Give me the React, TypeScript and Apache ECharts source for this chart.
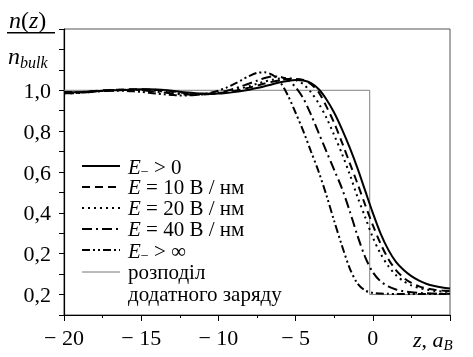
import { useEffect, useRef } from 'react';
import * as echarts from 'echarts';

const FONT = 'Liberation Serif';

// z positions (a_B)
const zValues = [
  -20, -19.5, -19, -18.5, -18, -17.5, -17, -16.5, -16, -15.5,
  -15, -14.5, -14, -13.5, -13, -12.5, -12, -11.5, -11, -10.5,
  -10, -9.5, -9, -8.5, -8, -7.5, -7, -6.5, -6, -5.5,
  -5, -4.5, -4, -3.5, -3, -2.5, -2, -1.5, -1, -0.5,
  0, 0.5, 1, 1.5, 2, 2.5, 3, 3.5, 4, 4.5, 5,
];

// E_ -> 0 (solid)
const eZero = [
  0.99, 0.99, 0.99, 0.993, 0.995, 0.998, 1.0, 1.0, 1.002, 1.004,
  1.005, 1.005, 1.004, 1.002, 0.998, 0.993, 0.989, 0.986, 0.984, 0.983,
  0.984, 0.987, 0.991, 0.996, 1.003, 1.011, 1.02, 1.03, 1.039, 1.046,
  1.05, 1.048, 1.035, 1.005, 0.955, 0.89, 0.81, 0.72, 0.62, 0.51,
  0.40, 0.30, 0.22, 0.16, 0.12, 0.09, 0.068, 0.052, 0.042, 0.035, 0.03,
];

// E = 10 V/nm (dashed)
const e10 = [
  0.99, 0.99, 0.991, 0.994, 0.997, 1.0, 1.002, 1.003, 1.004, 1.005,
  1.005, 1.004, 1.002, 0.999, 0.995, 0.99, 0.986, 0.983, 0.982, 0.983,
  0.986, 0.99, 0.996, 1.004, 1.013, 1.023, 1.033, 1.042, 1.05, 1.055,
  1.055, 1.05, 1.03, 0.99, 0.92, 0.84, 0.745, 0.645, 0.545, 0.44,
  0.34, 0.25, 0.175, 0.12, 0.082, 0.057, 0.04, 0.03, 0.024, 0.02, 0.018,
];

// E = 20 V/nm (dotted)
const e20 = [
  0.985, 0.986, 0.988, 0.99, 0.994, 0.997, 1.0, 1.002, 1.003, 1.003,
  1.002, 1.0, 0.997, 0.993, 0.989, 0.985, 0.982, 0.98, 0.98, 0.982,
  0.986, 0.992, 1.0, 1.01, 1.02, 1.032, 1.043, 1.052, 1.058, 1.06,
  1.05, 1.03, 0.99, 0.935, 0.865, 0.78, 0.69, 0.59, 0.48, 0.38,
  0.28, 0.2, 0.14, 0.095, 0.065, 0.045, 0.032, 0.024, 0.018, 0.015, 0.013,
];

// E = 40 V/nm (dash-dot)
const e40 = [
  0.985, 0.985, 0.987, 0.99, 0.993, 0.996, 0.999, 1.001, 1.002, 1.002,
  1.0, 0.997, 0.993, 0.989, 0.985, 0.981, 0.979, 0.978, 0.979, 0.983,
  0.989, 0.997, 1.007, 1.02, 1.033, 1.047, 1.06, 1.068, 1.066, 1.05,
  1.015, 0.96, 0.88, 0.79, 0.70, 0.61, 0.52, 0.41, 0.29, 0.185,
  0.11, 0.065, 0.04, 0.025, 0.016, 0.011, 0.008, 0.006, 0.005, 0.004, 0.004,
];

// E_ -> infinity (dash-dot-dot)
const eInf = [
  0.99, 0.99, 0.99, 0.992, 0.995, 0.997, 0.998, 0.998, 0.997, 0.995,
  0.992, 0.988, 0.984, 0.98, 0.977, 0.975, 0.975, 0.977, 0.981, 0.988,
  0.998, 1.012, 1.03, 1.05, 1.07, 1.085, 1.088, 1.075, 1.04, 0.975,
  0.89, 0.80, 0.70, 0.60, 0.485, 0.36, 0.24, 0.13, 0.055, 0.02,
  0.008, 0.005, 0.004, 0.003, 0.003, 0.003, 0.003, 0.003, 0.003, 0.003, 0.003,
];

// positive charge distribution (step)
const stepZ = [-20, -0.2, -0.2, 5];
const stepN = [1, 1, 0, 0];

const xTickLabels: Record<number, string> = { [-20]: '− 20', [-15]: '− 15', [-10]: '− 10', [-5]: '− 5', 0: '0' };
const yTickLabels: Record<number, string> = { 0: '0,2', 2: '0,2', 4: '0,4', 6: '0,6', 8: '0,8', 10: '1,0' };

const legendTexts = [
  '{e|E}{s|−}{n| > 0}',
  '{e|E}{n| = 10 В / нм}',
  '{e|E}{n| = 20 В / нм}',
  '{e|E}{n| = 40 В / нм}',
  '{e|E}{s|−}{n| > ∞}',
  '{n|розподіл}',
  '{n|додатного заряду}',
];

const zip = (xs: number[], ys: number[]) => xs.map((x, i) => [x, ys[i]]);

export default function App() {
  const ref = useRef<HTMLDivElement>(null);
  useEffect(() => {
    const chart = echarts.init(ref.current!, null, { renderer: 'svg' });

    const curves = [
      { name: 'E_ > 0', data: eZero },
      { name: 'E = 10', data: e10 },
      { name: 'E = 20', data: e20 },
      { name: 'E = 40', data: e40 },
      { name: 'E_ > inf', data: eInf },
    ];
    const dashes: any[] = [null, [8, 5], [2, 4], [10, 4, 2, 4], [8, 3, 2, 3, 2, 3]];

    const rowY = [166, 187, 208, 229, 250, 272, 294];
    const rich = {
      e: { fontFamily: FONT, fontSize: 21, fontStyle: 'italic' },
      s: { fontFamily: FONT, fontSize: 14, padding: [9, 0, 0, 0] },
      n: { fontFamily: FONT, fontSize: 21 },
    };

    const graphics: any[] = [];
    rowY.forEach((y, i) => {
      if (i < 5) {
        graphics.push({
          type: 'line',
          shape: { x1: 82, y1: y, x2: 120, y2: y },
          style: { stroke: '#000', lineWidth: 2, lineDash: dashes[i] || undefined },
        });
      } else if (i === 5) {
        graphics.push({
          type: 'line',
          shape: { x1: 82, y1: y, x2: 120, y2: y },
          style: { stroke: '#777', lineWidth: 1 },
        });
      }
      graphics.push({
        type: 'text',
        x: 128,
        y: y - 11,
        style: { text: legendTexts[i], rich, fontFamily: FONT, fontSize: 21, fill: '#000' },
      });
    });

    // y-axis title n(z)/n_bulk
    graphics.push({
      type: 'text',
      x: 9,
      y: 8,
      style: {
        text: '{i|n}{r|(}{i|z}{r|)}',
        rich: {
          i: { fontFamily: FONT, fontSize: 24, fontStyle: 'italic' },
          r: { fontFamily: FONT, fontSize: 24 },
        },
        fontFamily: FONT,
        fontSize: 24,
        fill: '#000',
      },
    });
    graphics.push({ type: 'rect', shape: { x: 7, y: 32, width: 48, height: 1.5 }, style: { fill: '#000' } });
    graphics.push({
      type: 'text',
      x: 8,
      y: 42,
      style: {
        text: '{i|n}{b|bulk}',
        rich: {
          i: { fontFamily: FONT, fontSize: 24, fontStyle: 'italic' },
          b: { fontFamily: FONT, fontSize: 16, fontStyle: 'italic', padding: [12, 0, 0, 0] },
        },
        fontFamily: FONT,
        fontSize: 24,
        fill: '#000',
      },
    });
    // x-axis name z, a_B
    graphics.push({
      type: 'text',
      x: 413,
      y: 327,
      style: {
        text: '{i|z}{r|, }{i|a}{b|B}',
        rich: {
          i: { fontFamily: FONT, fontSize: 22, fontStyle: 'italic' },
          r: { fontFamily: FONT, fontSize: 22 },
          b: { fontFamily: FONT, fontSize: 15, fontStyle: 'italic', padding: [10, 0, 0, 0] },
        },
        fontFamily: FONT,
        fontSize: 22,
        fill: '#000',
      },
    });

    const option: any = {
      animation: false,
      grid: { left: 64, right: 23, top: 29, bottom: 42, show: true, borderColor: '#555', borderWidth: 1 },
      xAxis: {
        type: 'value',
        min: -20,
        max: 5,
        interval: 5,
        axisLine: { show: true, onZero: false, lineStyle: { color: '#000', width: 1.2 } },
        axisTick: { show: true, length: 6, lineStyle: { color: '#000' } },
        minorTick: { show: true, splitNumber: 2, length: 3, lineStyle: { color: '#000' } },
        splitLine: { show: false },
        axisLabel: {
          fontFamily: FONT,
          fontSize: 22,
          color: '#000',
          margin: 11,
          formatter: (v: number) => xTickLabels[Math.round(v)] ?? '',
        },
      },
      yAxis: {
        type: 'value',
        min: -0.1,
        max: 1.3,
        interval: 0.1,
        axisLine: { show: true, onZero: false, lineStyle: { color: '#000', width: 1.2 } },
        axisTick: { show: true, length: 5, lineStyle: { color: '#000' } },
        splitLine: { show: false },
        axisLabel: {
          fontFamily: FONT,
          fontSize: 22,
          color: '#000',
          margin: 13,
          showMinLabel: true,
          showMaxLabel: true,
          formatter: (v: number) => yTickLabels[Math.round(v * 10)] ?? '',
        },
      },
      graphic: graphics,
      series: [
        {
          type: 'line',
          data: zip(stepZ, stepN),
          showSymbol: false,
          lineStyle: { color: '#808080', width: 1 },
          z: 1,
        },
        ...curves.map((c, i) => ({
          type: 'line',
          name: c.name,
          data: zip(zValues, c.data),
          smooth: 0.3,
          showSymbol: false,
          lineStyle: { color: '#000', width: 2, type: i === 0 ? 'solid' : dashes[i] },
          z: 2,
        })),
      ],
    };
    chart.setOption(option);
    return () => chart.dispose();
  }, []);
  return <div ref={ref} style={{ position: 'fixed', left: 0, top: 0, width: 473, height: 357 }} />;
}
